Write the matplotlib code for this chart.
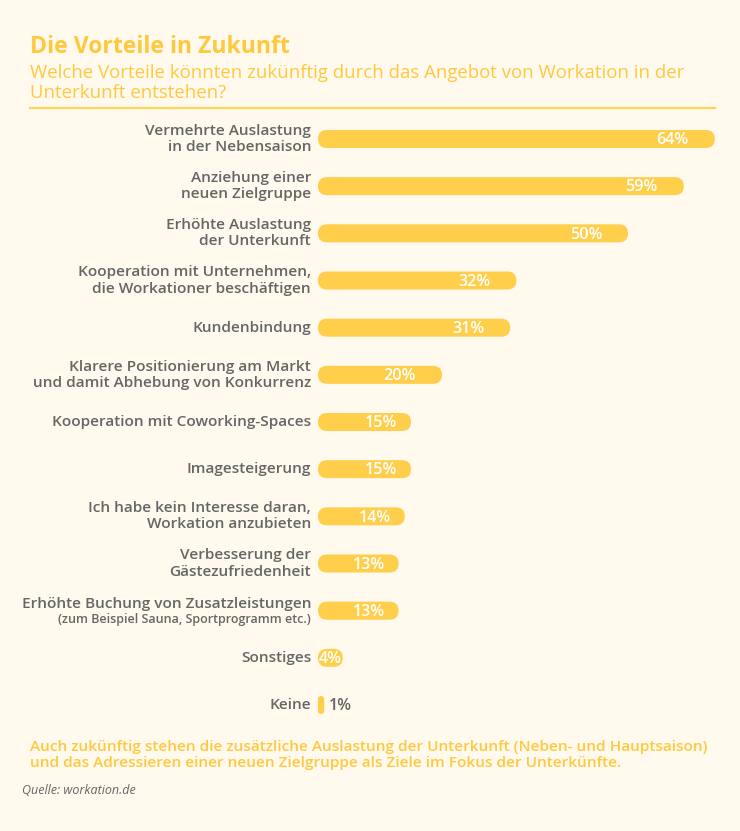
import matplotlib
matplotlib.use("Agg")
import matplotlib.pyplot as plt
from matplotlib.patches import FancyBboxPatch

CATEGORIES = [
    "Vermehrte Auslastung\nin der Nebensaison",
    "Anziehung einer\nneuen Zielgruppe",
    "Erhöhte Auslastung\nder Unterkunft",
    "Kooperation mit Unternehmen,\ndie Workationer beschäftigen",
    "Kundenbindung",
    "Klarere Positionierung am Markt\nund damit Abhebung von Konkurrenz",
    "Kooperation mit Coworking-Spaces",
    "Imagesteigerung",
    "Ich habe kein Interesse daran,\nWorkation anzubieten",
    "Verbesserung der\nGästezufriedenheit",
    "Erhöhte Buchung von Zusatzleistungen",
    "Sonstiges",
    "Keine",
]
SUBNOTES = {10: "(zum Beispiel Sauna, Sportprogramm etc.)"}
VALUES = [64, 59, 50, 32, 31, 20, 15, 15, 14, 13, 13, 4, 1]

TITLE = "Die Vorteile in Zukunft"
SUBTITLE = "Welche Vorteile könnten zukünftig durch das Angebot von Workation in der\nUnterkunft entstehen?"
FOOTER = ("Auch zukünftig stehen die zusätzliche Auslastung der Unterkunft (Neben- und Hauptsaison)\n"
          "und das Adressieren einer neuen Zielgruppe als Ziele im Fokus der Unterkünfte.")
SOURCE = "Quelle: workation.de"

BG = "#FFF9EE"
YELLOW = "#FFCE4A"
TITLE_YELLOW = "#FFC83D"
GREY = "#666666"

W, H = 740, 831
plt.rcParams["font.family"] = ["Open Sans", "DejaVu Sans"]

fig = plt.figure(figsize=(W / 100, H / 100), dpi=100, facecolor=BG)


def fx(x):
    return x / W


def fy(y):
    return 1 - y / H


# header
fig.text(fx(30), fy(47), TITLE, fontsize=16.6, fontweight="bold", color=TITLE_YELLOW, va="center")
fig.text(fx(30), fy(83), SUBTITLE, fontsize=13.4, color=TITLE_YELLOW, va="center", linespacing=1.1)
fig.add_artist(plt.Line2D([fx(30), fx(715)], [fy(108), fy(108)], color="#FFD457", lw=1.6))

# bar area
x0, px_per_unit = 318, 6.2
xmax = 64
top_c, bot_c = 139, 705
n = len(VALUES)
step = (bot_c - top_c) / (n - 1)
ax_top = top_c - step / 2
ax_bot = bot_c + step / 2
ax = fig.add_axes([fx(x0), fy(ax_bot), xmax * px_per_unit / W, (ax_bot - ax_top) / H])
ax.set_xlim(0, xmax)
ax.set_ylim(n - 0.5, -0.5)
ax.axis("off")
ax.set_facecolor("none")

bar_h_px = 18
bar_h = bar_h_px / step
aspect = px_per_unit / step  # y-units per x-unit for equal pixels
PT = 0.72  # points per pixel at 100 dpi

for i, (cat, v) in enumerate(zip(CATEGORIES, VALUES)):
    w_px = v * px_per_unit
    r_px = min(bar_h_px / 2, w_px / 2)
    r = r_px / px_per_unit
    patch = FancyBboxPatch((0, i - bar_h / 2), v, bar_h,
                           boxstyle=f"round,pad=0,rounding_size={r}",
                           mutation_aspect=aspect, fc=YELLOW, ec="none")
    ax.add_patch(patch)

    if v >= 20:
        off = 26
    elif v >= 10:
        off = 14
    elif v >= 3:
        off = 1
    else:
        off = None
    if off is not None:
        ax.annotate(f"{v}%", (v, i), xytext=(-off * PT, -1.2 * PT), textcoords="offset points",
                    ha="right", va="center", fontsize=11.6, fontweight="semibold", color="white")
    else:
        ax.annotate(f"{v}%", (v, i), xytext=(5 * PT, -1.2 * PT), textcoords="offset points",
                    ha="left", va="center", fontsize=11.6, fontweight="semibold", color=GREY)

    if i in SUBNOTES:
        ax.annotate(cat, (0, i), xytext=(-7 * PT, 6.5 * PT), textcoords="offset points",
                    ha="right", va="center", fontsize=11.05, fontweight="semibold", color=GREY)
        ax.annotate(SUBNOTES[i], (0, i), xytext=(-7 * PT, -9 * PT), textcoords="offset points",
                    ha="right", va="center", fontsize=9, fontweight="semibold", color=GREY)
    else:
        ax.annotate(cat, (0, i), xytext=(-7 * PT, 0), textcoords="offset points",
                    ha="right", va="center", fontsize=11.05, fontweight="semibold", color=GREY,
                    linespacing=1.2)

# footer
fig.text(fx(30), fy(755), FOOTER, fontsize=11.1, fontweight="semibold", color=TITLE_YELLOW,
         va="center", linespacing=1.25)
fig.text(fx(22), fy(790), SOURCE, fontsize=9, style="italic", color=GREY, va="center")

fig.savefig("out.png", dpi=100, facecolor=BG)
